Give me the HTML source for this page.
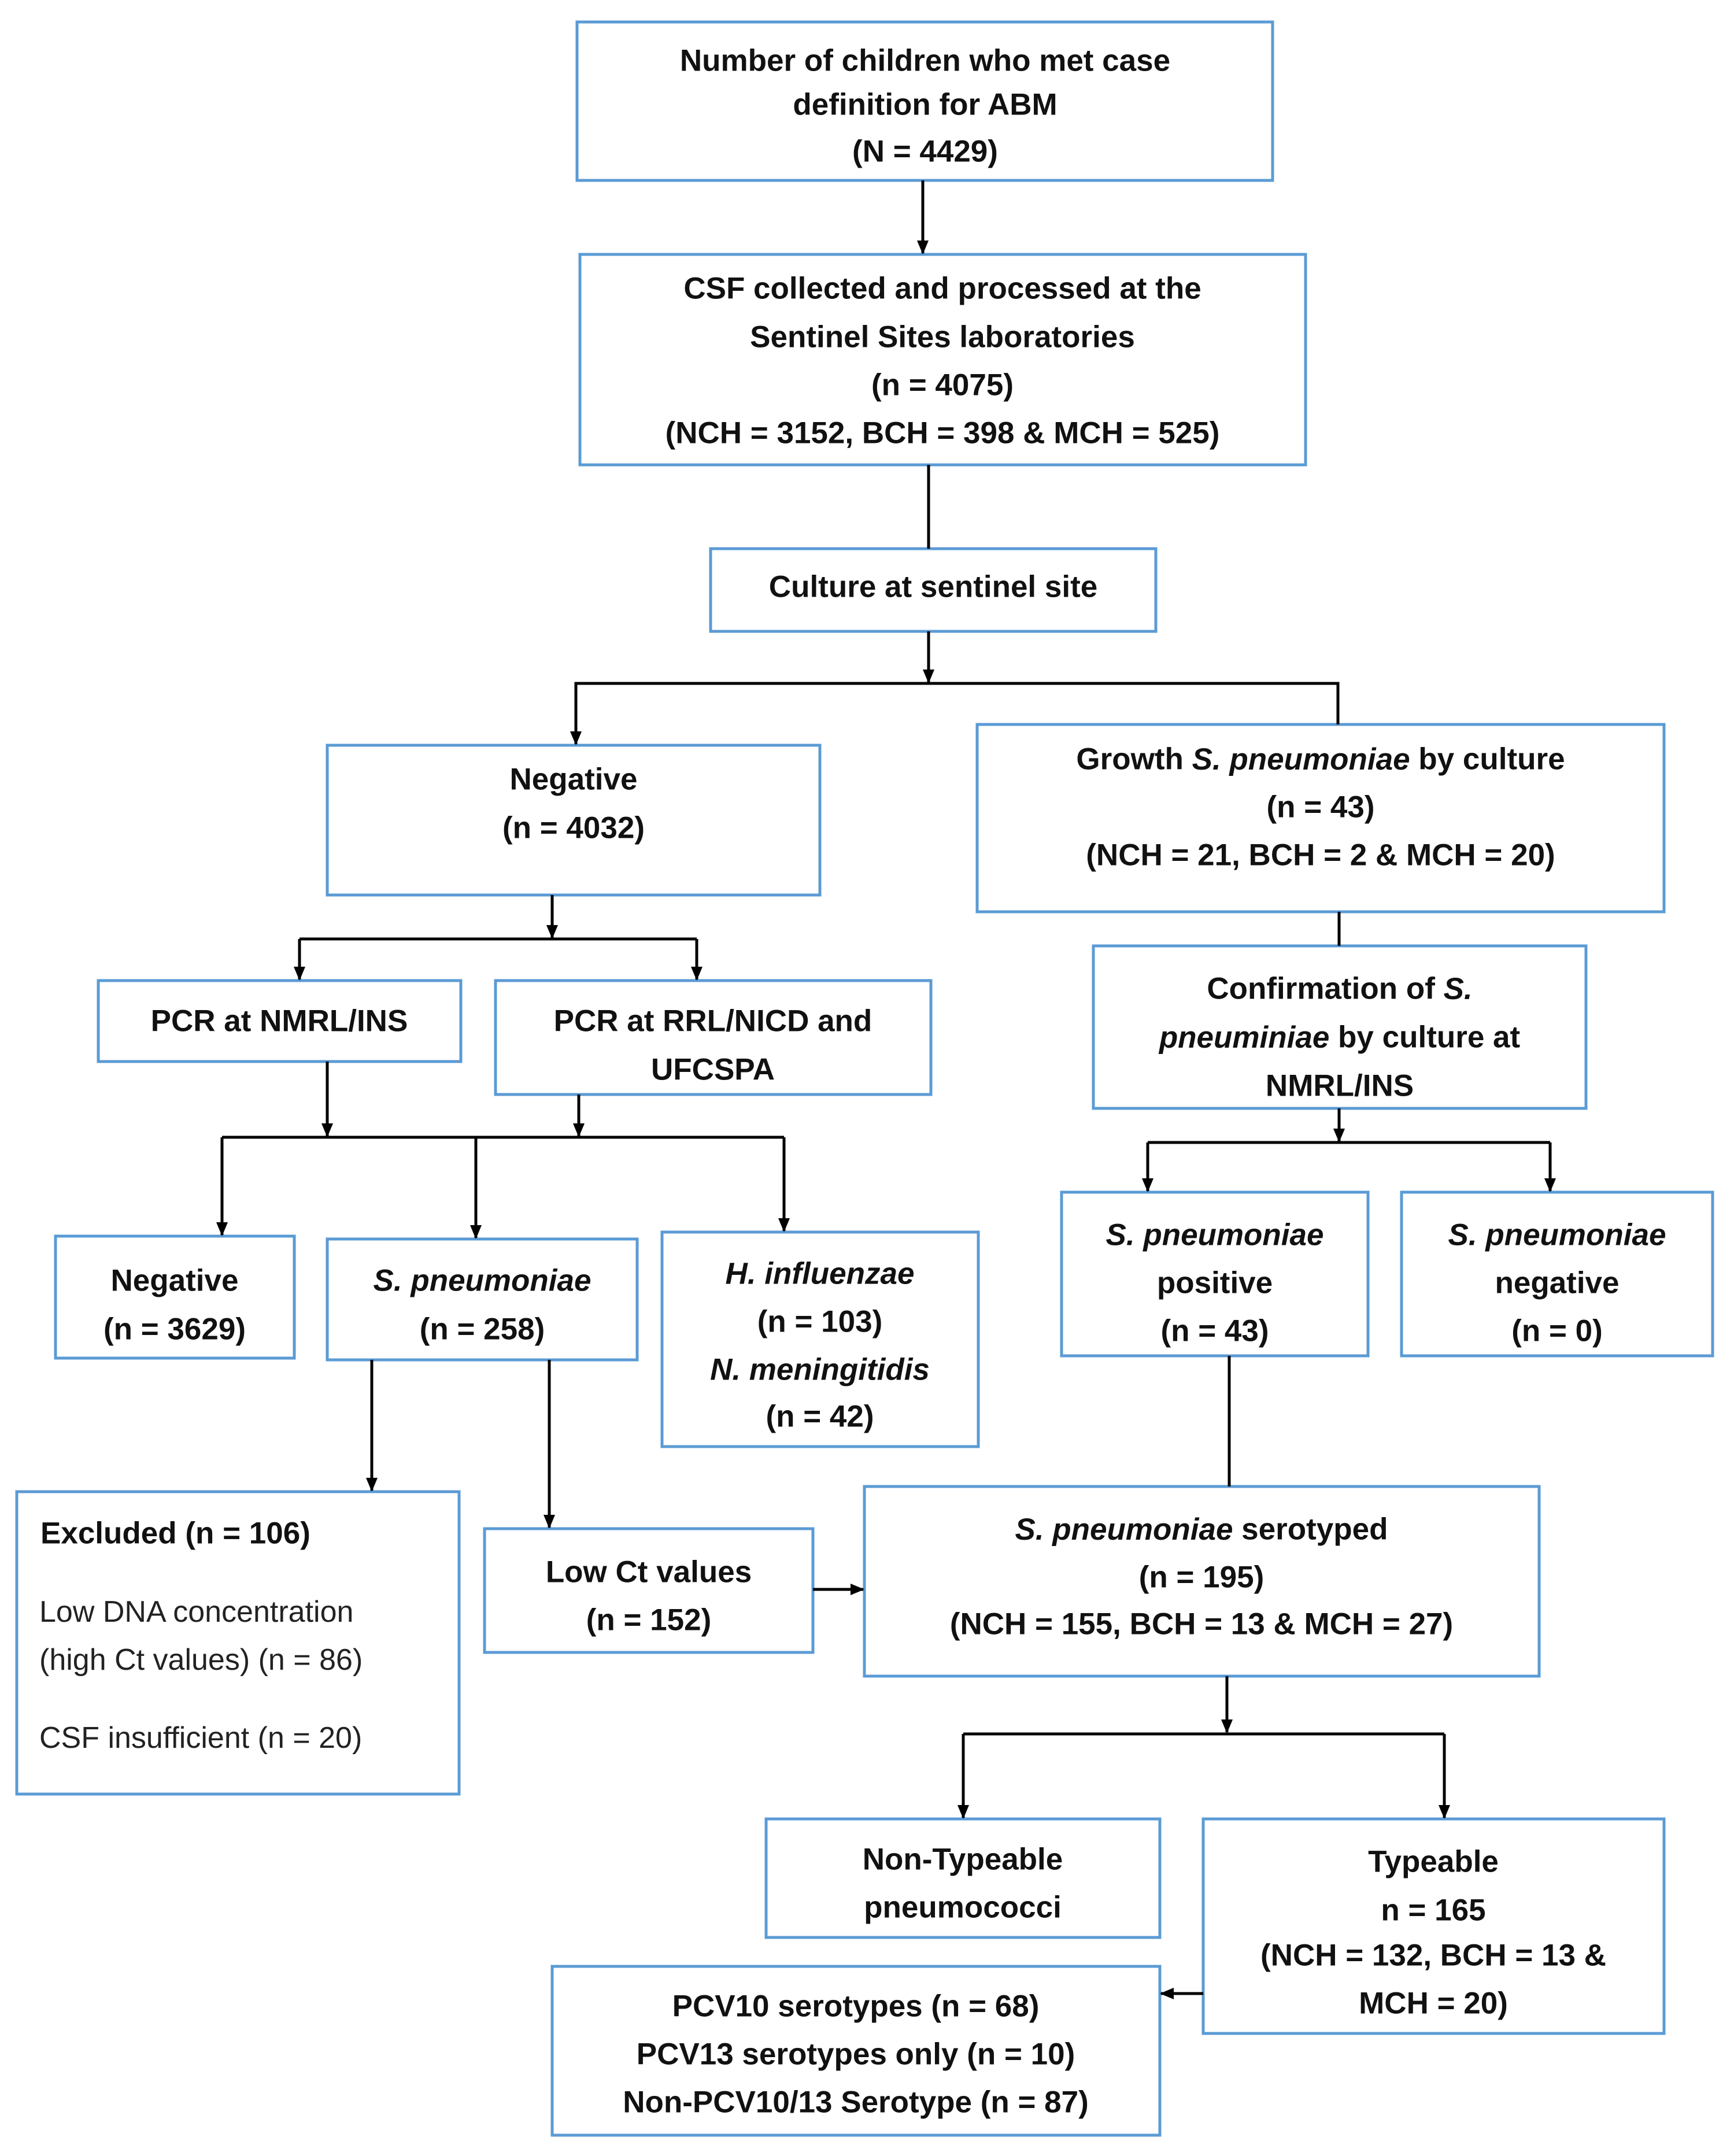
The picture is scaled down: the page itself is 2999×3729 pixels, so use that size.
<!DOCTYPE html>
<html><head><meta charset="utf-8"><style>html,body{margin:0;padding:0;background:#fff}svg{display:block}</style></head>
<body>
<svg xmlns="http://www.w3.org/2000/svg" width="2999" height="3729" viewBox="0 0 2999 3729">
<defs>
<marker id="a" markerWidth="8" markerHeight="8" refX="7" refY="4" orient="auto" markerUnits="userSpaceOnUse" viewBox="0 0 8 8"><path d="M0,0 L8,4 L0,8 z" fill="#000"/></marker>
<marker id="ah" markerWidth="24" markerHeight="24" refX="22" refY="12" orient="auto" markerUnits="userSpaceOnUse"><path d="M0,2 L24,12 L0,22 z" fill="#000"/></marker>
</defs>
<g fill="#fff" stroke="#5b9bd5" stroke-width="5">
<rect x="998" y="38" width="1203" height="274"/>
<rect x="1003" y="440" width="1255" height="364"/>
<rect x="1229" y="949" width="770" height="143"/>
<rect x="566" y="1289" width="852" height="259"/>
<rect x="1690" y="1253" width="1188" height="324"/>
<rect x="170" y="1696" width="627" height="140"/>
<rect x="857" y="1696" width="753" height="197"/>
<rect x="1891" y="1636" width="852" height="281"/>
<rect x="96" y="2138" width="413" height="211"/>
<rect x="566" y="2143" width="536" height="209"/>
<rect x="1145" y="2131" width="547" height="371"/>
<rect x="1836" y="2062" width="530" height="283"/>
<rect x="2424" y="2062" width="538" height="283"/>
<rect x="29" y="2580" width="765" height="523"/>
<rect x="838" y="2644" width="568" height="214"/>
<rect x="1495" y="2571" width="1167" height="328"/>
<rect x="1325" y="3146" width="681" height="205"/>
<rect x="2081" y="3146" width="797" height="371"/>
<rect x="955" y="3401" width="1051" height="292"/>
</g>
<g stroke="#000" stroke-width="5" fill="none">
<line x1="1596" y1="312" x2="1596" y2="438" marker-end="url(#ah)"/>
<line x1="1606" y1="804" x2="1606" y2="949"/>
<line x1="1606" y1="1092" x2="1606" y2="1180" marker-end="url(#ah)"/>
<polyline points="996,1287 996,1182 2314,1182 2314,1253" />
<line x1="996" y1="1182" x2="996" y2="1287" marker-end="url(#ah)"/>
<line x1="955" y1="1548" x2="955" y2="1622" marker-end="url(#ah)"/>
<line x1="518" y1="1624" x2="1205" y2="1624"/>
<line x1="518" y1="1624" x2="518" y2="1694" marker-end="url(#ah)"/>
<line x1="1205" y1="1624" x2="1205" y2="1694" marker-end="url(#ah)"/>
<line x1="2316" y1="1577" x2="2316" y2="1636"/>
<line x1="566" y1="1836" x2="566" y2="1965" marker-end="url(#ah)"/>
<line x1="1001" y1="1893" x2="1001" y2="1965" marker-end="url(#ah)"/>
<line x1="384" y1="1967" x2="1356" y2="1967"/>
<line x1="384" y1="1967" x2="384" y2="2136" marker-end="url(#ah)"/>
<line x1="823" y1="1967" x2="823" y2="2141" marker-end="url(#ah)"/>
<line x1="1356" y1="1967" x2="1356" y2="2129" marker-end="url(#ah)"/>
<line x1="2316" y1="1917" x2="2316" y2="1974" marker-end="url(#ah)"/>
<line x1="1985" y1="1976" x2="2681" y2="1976"/>
<line x1="1985" y1="1976" x2="1985" y2="2060" marker-end="url(#ah)"/>
<line x1="2681" y1="1976" x2="2681" y2="2060" marker-end="url(#ah)"/>
<line x1="2126" y1="2345" x2="2126" y2="2571"/>
<line x1="643" y1="2352" x2="643" y2="2578" marker-end="url(#ah)"/>
<line x1="950" y1="2352" x2="950" y2="2642" marker-end="url(#ah)"/>
<line x1="1406" y1="2749" x2="1493" y2="2749" marker-end="url(#ah)"/>
<line x1="2122" y1="2899" x2="2122" y2="2996" marker-end="url(#ah)"/>
<line x1="1666" y1="2999" x2="2498" y2="2999"/>
<line x1="1666" y1="2999" x2="1666" y2="3144" marker-end="url(#ah)"/>
<line x1="2498" y1="2999" x2="2498" y2="3144" marker-end="url(#ah)"/>
<line x1="2081" y1="3448" x2="2008" y2="3448" marker-end="url(#ah)"/>
</g>
<g font-family="'Liberation Sans', Arial, sans-serif" font-size="53" font-weight="bold" fill="#111" text-anchor="middle" dominant-baseline="central">
<text x="1600" y="105">Number of children  who met case</text>
<text x="1600" y="181">definition for ABM</text>
<text x="1600" y="262">(N = 4429)</text>
<text x="1630" y="499">CSF collected and processed at the</text>
<text x="1630" y="583">Sentinel Sites laboratories</text>
<text x="1630" y="666">(n = 4075)</text>
<text x="1630" y="749">(NCH = 3152, BCH = 398 &amp; MCH = 525)</text>
<text x="1614" y="1015">Culture at sentinel site</text>
<text x="992" y="1348">Negative</text>
<text x="992" y="1432">(n = 4032)</text>
<text x="2284" y="1313">Growth  <tspan font-style="italic">S. pneumoniae</tspan>  by culture</text>
<text x="2284" y="1396">(n = 43)</text>
<text x="2284" y="1479">(NCH = 21, BCH = 2 &amp; MCH = 20)</text>
<text x="483" y="1766">PCR at NMRL/INS</text>
<text x="1233" y="1766">PCR at RRL/NICD and</text>
<text x="1233" y="1850">UFCSPA</text>
<text x="2317" y="1710">Confirmation of <tspan font-style="italic">S.</tspan></text>
<text x="2317" y="1794"><tspan font-style="italic">pneuminiae</tspan> by culture at</text>
<text x="2317" y="1878">NMRL/INS</text>
<text x="302" y="2215">Negative</text>
<text x="302" y="2299">(n = 3629)</text>
<text x="834" y="2215" font-style="italic">S. pneumoniae</text>
<text x="834" y="2299">(n = 258)</text>
<text x="1418" y="2203" font-style="italic">H. influenzae</text>
<text x="1418" y="2286">(n = 103)</text>
<text x="1418" y="2369" font-style="italic">N. meningitidis</text>
<text x="1418" y="2450">(n = 42)</text>
<text x="2101" y="2136" font-style="italic">S. pneumoniae</text>
<text x="2101" y="2219">positive</text>
<text x="2101" y="2302">(n = 43)</text>
<text x="2693" y="2136" font-style="italic">S. pneumoniae</text>
<text x="2693" y="2219">negative</text>
<text x="2693" y="2302">(n = 0)</text>
<text x="1122" y="2719">Low Ct values</text>
<text x="1122" y="2802">(n = 152)</text>
<text x="2078" y="2645"><tspan font-style="italic">S. pneumoniae</tspan> serotyped</text>
<text x="2078" y="2728">(n = 195)</text>
<text x="2078" y="2809">(NCH = 155, BCH = 13 &amp; MCH = 27)</text>
<text x="1665" y="3216">Non-Typeable</text>
<text x="1665" y="3299">pneumococci</text>
<text x="2479" y="3220">Typeable</text>
<text x="2479" y="3304">n = 165</text>
<text x="2479" y="3382">(NCH = 132, BCH = 13 &amp;</text>
<text x="2479" y="3465">MCH = 20)</text>
<text x="1480" y="3470">PCV10 serotypes (n = 68)</text>
<text x="1480" y="3553">PCV13 serotypes only (n = 10)</text>
<text x="1480" y="3636">Non-PCV10/13 Serotype (n = 87)</text>
<text x="70" y="2652" text-anchor="start">Excluded (n = 106)</text>
</g>
<g font-family="'Liberation Sans', Arial, sans-serif" font-size="52" fill="#222" dominant-baseline="central">
<text x="68" y="2788">Low DNA concentration</text>
<text x="68" y="2871">(high Ct values) (n = 86)</text>
<text x="68" y="3006">CSF insufficient (n = 20)</text>
</g>
</svg>
</body></html>
